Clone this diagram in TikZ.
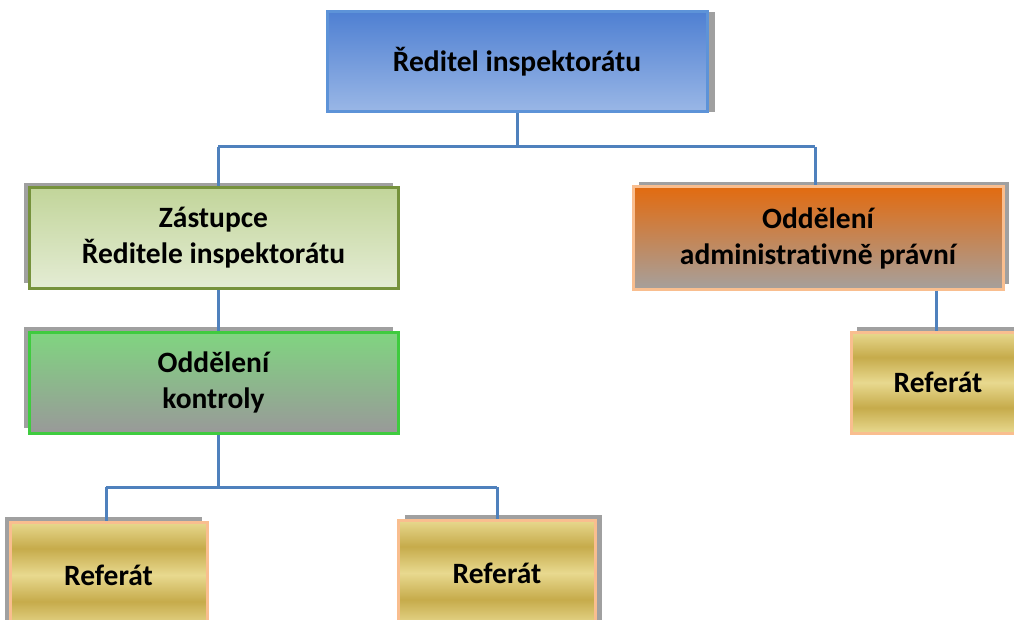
\documentclass[tikz,border=0pt]{standalone}
\usepackage{fontspec}
\setmainfont{Carlito}[Ligatures=NoCommon]
\usetikzlibrary{shadows}
\definecolor{lineblue}{HTML}{4F81BD}
\definecolor{shgray}{HTML}{A0A0A0}
\definecolor{blueT}{HTML}{4F80D2}
\definecolor{blueB}{HTML}{9AB7E6}
\definecolor{blueE}{HTML}{5D93D8}
\definecolor{olT}{HTML}{C2D59A}
\definecolor{olB}{HTML}{E4ECD4}
\definecolor{olE}{HTML}{76923C}
\definecolor{grT}{HTML}{80D580}
\definecolor{grB}{HTML}{999999}
\definecolor{grE}{HTML}{3FCB3F}
\definecolor{orT}{HTML}{E26B10}
\definecolor{orB}{HTML}{A6A09C}
\definecolor{peach}{HTML}{F9BE8F}
\definecolor{goldL}{HTML}{E8D98F}
\definecolor{goldD}{HTML}{C6AB4B}
\pgfdeclareverticalshading{goldband}{100bp}{color(0bp)=(goldL); color(25bp)=(goldL); color(37.5bp)=(goldD); color(50bp)=(goldL); color(62.5bp)=(goldD); color(75bp)=(goldL); color(100bp)=(goldL)}
\tikzset{
  box/.style={rectangle, line width=3pt, font=\bfseries\fontsize{29.5}{36}\selectfont, align=center, inner sep=0pt},
  shUL/.style={drop shadow={shadow xshift=-5pt, shadow yshift=5pt, fill=shgray, opacity=1}},
  shUR/.style={drop shadow={shadow xshift=6pt, shadow yshift=5pt, fill=shgray, opacity=1}},
  shR/.style={drop shadow={shadow xshift=8pt, shadow yshift=0pt, fill=shgray, opacity=1}},
  conn/.style={draw=lineblue, line width=3pt},
  refbox/.style={box, draw=peach, shading=goldband, minimum width=197pt, minimum height=106pt}
}
\begin{document}
\begin{tikzpicture}[x=1pt,y=-1pt]
\useasboundingbox (0,0) rectangle (1014,620);
\coordinate (j1) at (517,147);
\coordinate (j1l) at (218,147);
\coordinate (j1r) at (815,147);
\coordinate (j2) at (218,487);
\coordinate (j2l) at (106,487);
\coordinate (j2r) at (497,487);
\coordinate (j3) at (936,300);
\node[box, shR, draw=blueE, top color=blueT, bottom color=blueB, minimum width=380pt, minimum height=100pt] (dir) at (517,62) {Ředitel inspektorátu};
\node[box, shUL, draw=olE, top color=olT, bottom color=olB, minimum width=369pt, minimum height=100pt] (zast) at (213.5,238) {Zástupce\\Ředitele inspektorátu};
\node[box, shUL, draw=grE, top color=grT, bottom color=grB, minimum width=369pt, minimum height=101pt] (kont) at (213.5,382.5) {Oddělení\\kontroly};
\node[box, shUR, draw=peach, top color=orT, bottom color=orB, minimum width=370pt, minimum height=102pt] (odda) at (818,238) {Oddělení\\administrativně právní};
\node[refbox, shUR, minimum width=174pt, minimum height=101pt] (refr) at (938,382.5) {Referát};
\node[refbox, shUL] (ref1) at (108.5,575) {Referát};
\node[refbox, shUR] (ref2) at (497,573) {Referát};
\draw[conn] (dir.south) -- (j1);
\draw[conn] (j1l) -- (j1r);
\draw[conn] (j1l) -- (j1l |- zast.north);
\draw[conn] (j1r) -- (j1r |- odda.north);
\draw[conn] (j1l |- zast.south) -- (j1l |- kont.north);
\draw[conn] (j2 |- kont.south) -- (j2);
\draw[conn] (j2l) -- (j2r);
\draw[conn] (j2l) -- (j2l |- ref1.north);
\draw[conn] (j2r) -- (ref2.north);
\draw[conn] (j3 |- odda.south) -- (j3 |- refr.north);
\end{tikzpicture}
\end{document}
